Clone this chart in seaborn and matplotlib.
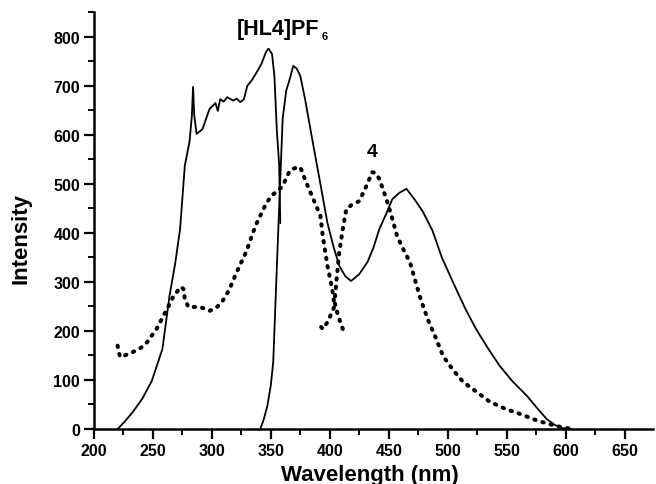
import matplotlib
matplotlib.use("Agg")
import matplotlib.pyplot as plt
from matplotlib.ticker import MultipleLocator
import seaborn as sns

# [HL4]PF6 excitation (solid)
hl4_exc_wl = [220, 226, 233, 241, 249, 258, 264, 269, 273, 277, 281, 283, 284, 285, 287, 292,
              298, 303, 305, 307, 310, 313, 318, 321, 324, 327, 330, 334, 338, 342, 346, 348,
              351, 353, 355, 357, 358]
hl4_exc_int = [0, 15, 35, 62, 98, 163, 271, 340, 408, 537, 586, 639, 698, 640, 602, 612,
               653, 665, 649, 673, 668, 677, 670, 674, 667, 672, 700, 712, 728, 745, 770, 776,
               765, 720, 612, 540, 420]

# [HL4]PF6 emission (solid)
hl4_em_wl = [341, 344, 347, 350, 352, 355, 357, 360, 363, 366, 369, 372, 375, 379, 385, 392,
             398, 403, 408, 413, 418, 425, 432, 437, 442, 448, 453, 459, 465, 472, 479, 487,
             495, 507, 515, 524, 534, 544, 555, 567, 576, 584, 591, 597, 605]
hl4_em_int = [0, 20, 47, 90, 137, 327, 450, 633, 690, 714, 741, 735, 720, 673, 592, 500,
              420, 373, 333, 312, 302, 316, 341, 370, 408, 440, 469, 482, 490, 468, 443, 405,
              350, 286, 245, 204, 165, 129, 97, 68, 42, 20, 8, 2, 0]

# complex 4 excitation (dotted)
c4_exc_wl = [220, 222, 226, 233, 240, 245, 253, 262, 267, 271, 274, 276, 277, 280, 285, 290,
             298, 303, 307, 311, 315, 321, 329, 335, 338, 342, 346, 351, 356, 360, 366, 370,
             375, 380, 386, 392, 394, 398, 402, 404, 402, 398, 394, 392]
c4_exc_int = [170, 147, 150, 157, 166, 177, 204, 245, 269, 282, 290, 285, 265, 249, 249, 249,
              241, 246, 255, 268, 286, 320, 361, 402, 420, 440, 460, 477, 486, 496, 527, 532,
              534, 503, 469, 435, 394, 333, 286, 251, 239, 218, 204, 210]

# complex 4 emission (dotted)
c4_em_wl = [411, 407, 404, 406, 408, 411, 414, 419, 425, 431, 436, 439, 442, 448, 453, 457,
            462, 468, 472, 477, 483, 490, 496, 504, 513, 521, 536, 550, 561, 575, 586, 596, 606]
c4_em_int = [204, 231, 259, 312, 361, 408, 449, 458, 465, 496, 524, 522, 510, 469, 429, 394,
             368, 340, 306, 265, 224, 185, 149, 122, 96, 82, 55, 40, 31, 18, 10, 4, 0]

sns.set_theme(style="ticks")
plt.rcParams["font.family"] = ["Liberation Sans", "DejaVu Sans"]
plt.rcParams["font.weight"] = "bold"
plt.rcParams["text.color"] = "black"
plt.rcParams["axes.edgecolor"] = "black"
plt.rcParams["axes.labelcolor"] = "black"
plt.rcParams["xtick.color"] = "black"
plt.rcParams["ytick.color"] = "black"

fig = plt.figure(figsize=(6.56, 4.85), dpi=100)
ax = fig.add_axes([0.1433, 0.1134, 0.852, 0.86])

solid = dict(color="black", linewidth=1.3, sort=False, estimator=None, ax=ax)
dotted = dict(color="black", linewidth=2.9, linestyle=(0, (0.35, 1.75)), sort=False,
              estimator=None, ax=ax, dash_capstyle="round")
sns.lineplot(x=hl4_exc_wl, y=hl4_exc_int, **solid)
sns.lineplot(x=hl4_em_wl, y=hl4_em_int, **solid)
sns.lineplot(x=c4_exc_wl, y=c4_exc_int, **dotted)
sns.lineplot(x=c4_em_wl, y=c4_em_int, **dotted)

ax.set_xlim(200, 674)
ax.set_ylim(0, 851)
ax.xaxis.set_major_locator(MultipleLocator(50))
ax.xaxis.set_minor_locator(MultipleLocator(25))
ax.yaxis.set_major_locator(MultipleLocator(100))
ax.yaxis.set_minor_locator(MultipleLocator(50))
ax.set_xticks(range(200, 651, 50))
ax.tick_params(which="major", direction="out", length=7, width=1.6, labelsize=11.5, pad=3,
               colors="black")
ax.tick_params(which="minor", direction="out", length=4.5, width=1.4, colors="black")
for lab in ax.get_xticklabels() + ax.get_yticklabels():
    lab.set_fontweight("bold")

sns.despine(ax=ax)
for side in ["left", "bottom"]:
    ax.spines[side].set_linewidth(1.8)
    ax.spines[side].set_color("black")

ax.set_xlabel("Wavelength (nm)", fontsize=16, fontweight="bold", va="top", color="black")
ax.set_ylabel("Intensity", fontsize=16, fontweight="bold", color="black")
ax.xaxis.set_label_coords(0.494, -0.085)
ax.yaxis.set_label_coords(-0.112, 0.46)

ax.text(321, 806, "[HL4]PF", fontsize=15.5, fontweight="bold", ha="left", va="baseline",
        color="black")
ax.text(393, 796, "6", fontsize=8, fontweight="bold", ha="left", va="baseline", color="black")
ax.text(435.6, 556, "4", fontsize=14, fontweight="bold", ha="center", va="baseline",
        color="black")

fig.savefig("out.png", dpi=100)
